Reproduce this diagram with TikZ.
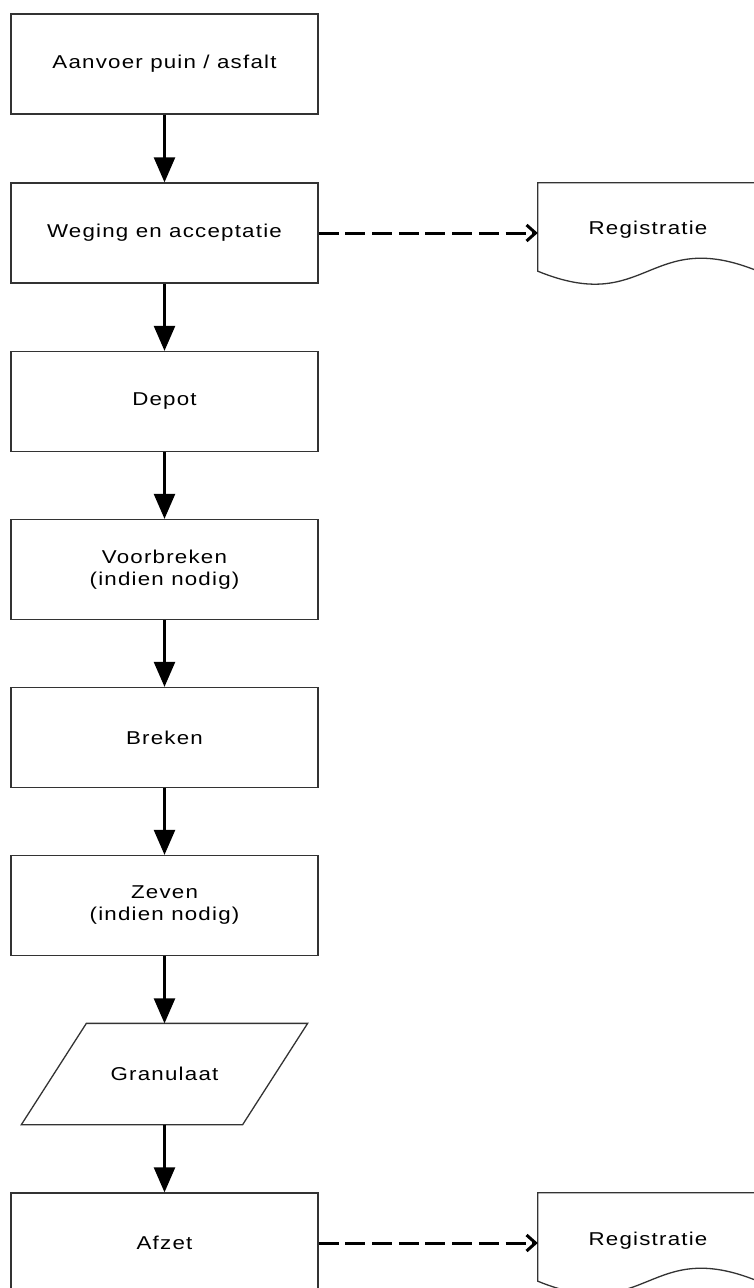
\documentclass[tikz,border=0pt]{standalone}
\usepackage{fontspec}
\setmainfont[FakeStretch=1.2,LetterSpace=6.5]{Liberation Sans}
\usepackage{tikz}
\usetikzlibrary{arrows.meta}
\tikzstyle{stap}=[rectangle,draw=black!80,line width=1.3pt,minimum width=307pt,minimum height=100pt,align=center,font=\fontsize{18.6}{22}\selectfont]
\tikzstyle{doc}=[rectangle,minimum width=220pt,minimum height=100pt,text depth=9.5pt,align=center,font=\fontsize{18.6}{22}\selectfont]
\tikzstyle{rand}=[draw=black!80,line width=1.3pt]
\tikzstyle{pijl}=[line width=2.5pt,-{Triangle[width=21pt,length=25pt]}]
\tikzstyle{stippel}=[line width=3pt,dash pattern=on 20pt off 6.7pt,-{Straight Barb[width=16pt,length=9pt]}]

\begin{document}
\begin{tikzpicture}[x=1pt,y=1pt]
        \useasboundingbox (0,0) rectangle (753,-1288);
        \node at (164.5,  -64) [stap] (A) {Aanvoer puin / asfalt};
        \node at (164.5, -233) [stap] (B) {Weging en acceptatie};
        \node at (164.5,-401.5) [stap] (C) {Depot};
        \node at (164.5,-569.5) [stap] (D) {Voorbreken\\(indien nodig)};
        \node at (164.5,-737.5) [stap] (E) {Breken};
        \node at (164.5,-905.5) [stap] (F) {Zeven\\(indien nodig)};
        \node at (164.5,-1074) [stap,draw=none,minimum width=220pt] (G) {Granulaat};
        \node at (164.5,-1243) [stap] (H) {Afzet};
        \node at (648, -233) [doc] (R1) {Registratie};
        \node at (648,-1243) [doc] (R2) {Registratie};
        % granulaat als parallellogram
        \draw [rand] ([xshift=32.5pt]G.north west) -- ([xshift=32.5pt]G.north east)
                -- ([xshift=-32.5pt]G.south east) -- ([xshift=-32.5pt]G.south west) -- cycle;
        % documenten
        \draw [rand] (R1.north west) -- (R1.north east) -- ([yshift=12pt]R1.south east)
                .. controls +(-110,45) and +(110,-45) .. ([yshift=12pt]R1.south west) -- cycle;
        \draw [rand] (R2.north west) -- (R2.north east) -- ([yshift=12pt]R2.south east)
                .. controls +(-110,45) and +(110,-45) .. ([yshift=12pt]R2.south west) -- cycle;
        \draw [pijl] (A) -- (B);
        \draw [pijl] (B) -- (C);
        \draw [pijl] (C) -- (D);
        \draw [pijl] (D) -- (E);
        \draw [pijl] (E) -- (F);
        \draw [pijl] (F) -- (G);
        \draw [pijl] (G) -- (H);
        \draw [stippel] (B) -- (R1);
        \draw [stippel] (H) -- (R2);
      \end{tikzpicture}
\end{document}
